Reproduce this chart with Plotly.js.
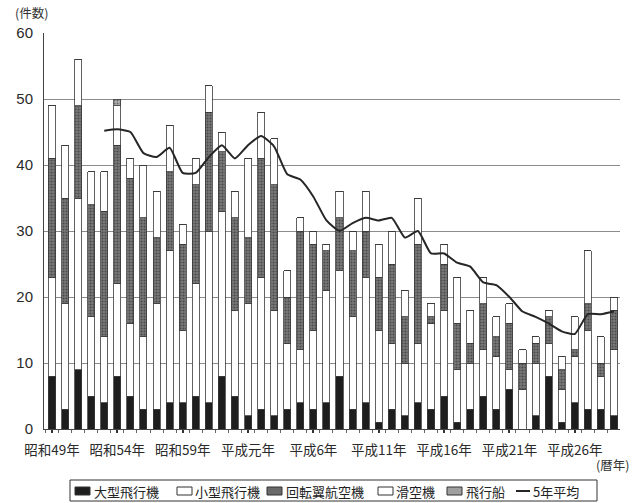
<!DOCTYPE html>
<html><head><meta charset="utf-8">
<script src="https://cdn.plot.ly/plotly-3.0.1.min.js"></script>
<style>html,body{margin:0;padding:0;background:#fff}#c{width:632px;height:503px}</style>
</head><body><div id="c"></div>
<script>
var years = [1974,1975,1976,1977,1978,1979,1980,1981,1982,1983,1984,1985,1986,1987,1988,1989,1990,1991,1992,1993,1994,1995,1996,1997,1998,1999,2000,2001,2002,2003,2004,2005,2006,2007,2008,2009,2010,2011,2012,2013,2014,2015,2016,2017];
var largePlane = [8,3,9,5,4,8,5,3,3,4,4,5,4,8,5,2,3,2,3,4,3,4,8,3,4,1,3,2,4,3,5,1,3,5,3,6,0,2,8,1,4,3,3,2];
var smallPlane = [15,16,26,12,10,14,11,11,16,23,11,17,26,25,13,17,20,16,10,8,12,17,16,14,19,14,10,8,9,13,13,8,7,7,8,3,6,8,5,5,7,12,5,10];
var rotorcraft = [18,16,14,17,19,21,22,18,10,12,13,15,18,9,14,10,18,19,7,18,13,6,8,10,7,8,12,7,15,1,7,7,3,7,3,7,4,3,4,3,1,4,2,6];
var glider     = [8,8,7,5,6,6,3,8,7,7,3,4,4,3,4,12,7,7,4,2,2,1,4,3,6,5,5,4,7,2,3,7,5,4,3,3,2,1,1,2,5,8,4,2];
var airship    = [0,0,0,0,0,1,0,0,0,0,0,0,0,0,0,0,0,0,0,0,0,0,0,0,0,0,0,0,0,0,0,0,0,0,0,0,0,0,0,0,0,0,0,0];
var avg5 = [null,null,null,null,45.2,45.4,45.0,41.8,41.2,42.6,38.8,38.8,41.2,43.0,41.0,43.0,44.4,42.8,38.6,37.8,35.2,31.6,30.0,31.2,32.0,31.6,32.0,29.0,30.0,26.6,26.6,25.2,24.6,22.2,21.8,20.0,17.8,17.0,16.0,14.8,14.4,17.4,17.4,17.8];
var tickYears = [1974,1979,1984,1989,1994,1999,2004,2009,2014];
var tickLabels = ["昭和49年","昭和54年","昭和59年","平成元年","平成6年","平成11年","平成16年","平成21年","平成26年"];
var names = ["大型飛行機","小型飛行機","回転翼航空機","滑空機","飛行船","5年平均"];

// plot area in pixels (for the hand-drawn legend)
var L = 44, R = 620, T = 33, B = 429;
function px(x){ return (x - L) / (R - L); }
function py(y){ return (B - y) / (B - T); }

var outline = {color:'#3a3a3a', width:0.8};
function bar(name, y, color, pattern){
  var m = {color:color, line:outline};
  if (pattern) m.pattern = pattern;
  return {type:'bar', name:name, x:years, y:y, marker:m, hoverinfo:'x+y+name'};
}
var data = [
  bar(names[0], largePlane, '#1e1e1e'),
  bar(names[1], smallPlane, '#ffffff'),
  bar(names[2], rotorcraft, '#6e6e6e', {shape:'.', fgcolor:'#4a4a4a', bgcolor:'#7a7a7a', size:3, solidity:0.4}),
  bar(names[3], glider, '#ffffff'),
  bar(names[4], airship, '#9a9a9a', {shape:'.', fgcolor:'#666', bgcolor:'#b0b0b0', size:3, solidity:0.3}),
  {type:'scatter', mode:'lines', name:names[5], x:years, y:avg5, connectgaps:false,
   line:{color:'#262626', width:2, shape:'spline', smoothing:0.5}}
];

// legend (drawn by hand to match the compact boxed legend)
var legY = 491;
var legItems = [
  {sx:75,  tx:92,  fill:'#1e1e1e', kind:'box'},
  {sx:177, tx:193, fill:'#ffffff', kind:'box'},
  {sx:267, tx:284, fill:'#6a6a6a', kind:'box'},
  {sx:378, tx:394, fill:'#ffffff', kind:'box'},
  {sx:447, tx:464, fill:'#a0a0a0', kind:'box'},
  {sx:516, tx:531, fill:'#262626', kind:'line'}
];
var shapes = [{type:'rect', xref:'paper', yref:'paper', x0:px(70), x1:px(597), y0:py(480), y1:py(501),
               line:{color:'#333', width:1}, fillcolor:'rgba(0,0,0,0)'}];
var annotations = [
  {xref:'paper', yref:'paper', x:px(13), y:py(24), xanchor:'left', yanchor:'bottom',
   text:'(件数)', showarrow:false, font:{size:12.5, color:'#333'}},
  {xref:'paper', yref:'paper', x:px(631), y:py(464), xanchor:'right', yanchor:'middle',
   text:'(暦年)', showarrow:false, font:{size:12.5, color:'#333'}}
];
legItems.forEach(function(it, i){
  if (it.kind === 'box') {
    shapes.push({type:'rect', xref:'paper', yref:'paper', x0:px(it.sx), x1:px(it.sx + 15),
                 y0:py(legY + 4), y1:py(legY - 4), line:{color:'#333', width:1}, fillcolor:it.fill});
  } else {
    shapes.push({type:'line', xref:'paper', yref:'paper', x0:px(it.sx), x1:px(it.sx + 14),
                 y0:py(legY), y1:py(legY), line:{color:it.fill, width:2}});
  }
  annotations.push({xref:'paper', yref:'paper', x:px(it.tx), y:py(legY), xanchor:'left', yanchor:'middle',
                    text:names[i], showarrow:false, font:{size:13, color:'#222'}});
});

var layout = {
  width:632, height:503,
  margin:{l:L, r:632 - R, t:T, b:503 - B, autoexpand:false},
  paper_bgcolor:'#fff', plot_bgcolor:'#fff',
  barmode:'stack', bargap:0.46,
  showlegend:false,
  font:{family:'"Noto Sans CJK JP", "Liberation Sans", sans-serif', color:'#2a2a2a'},
  xaxis:{
    range:[1973.39, 2017.46], tickmode:'array', tickvals:tickYears, ticktext:tickLabels,
    ticks:'outside', ticklen:3, tickwidth:2, tickcolor:'#333', ticklabelstandoff:6,
    tickfont:{size:13.5, family:'"Noto Sans CJK JP", sans-serif', color:'#2a2a2a'},
    showgrid:false, showline:true, linecolor:'#444', linewidth:1,
    minor:{tickmode:'linear', tick0:1973.5, dtick:1, ticks:'outside', ticklen:3, tickcolor:'#666', tickwidth:1},
    fixedrange:true
  },
  yaxis:{
    range:[0,60], tickmode:'array', tickvals:[0,10,20,30,40,50,60],
    showgrid:true, gridcolor:'#8c8c8c', gridwidth:1,
    zeroline:false, showline:true, linecolor:'#444', linewidth:1,
    ticks:'', ticklabelstandoff:7,
    tickfont:{size:15, family:'"Liberation Sans", Arial, sans-serif', color:'#2a2a2a'},
    fixedrange:true
  },
  shapes:shapes,
  annotations:annotations
};
Plotly.newPlot('c', data, layout, {displayModeBar:false, staticPlot:true});
</script></body></html>
